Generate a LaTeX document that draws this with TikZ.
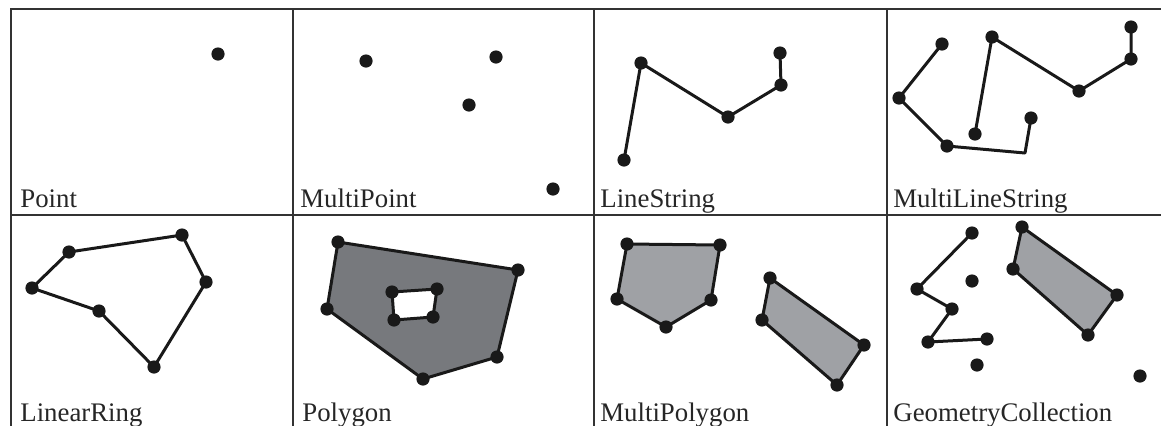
\documentclass[tikz,border=0pt]{standalone}
\usepackage{fontspec}
\setmainfont{Liberation Serif}
\definecolor{darkfill}{RGB}{119,121,125}
\definecolor{lightfill}{RGB}{159,161,165}
\begin{document}
\begin{tikzpicture}[x=0.5pt,y=-0.5pt,
  pt/.style={circle,fill=black!90,inner sep=0pt,minimum size=6.6pt},
  seg/.style={draw=black!90,line width=1.5pt,line join=round},
  grid/.style={draw=black!80,line width=0.9pt},
  lbl/.style={anchor=base west,inner sep=0pt,text=black!85,font=\fontsize{13.4}{15}\selectfont},
  darkpoly/.style={fill=darkfill},
  lightpoly/.style={fill=lightfill}]
\useasboundingbox (0,0) rectangle (1161,425);
% table
\draw[grid] (11,430) -- (11,9) -- (1165,9);
\draw[grid] (11,215) -- (1165,215);
\draw[grid] (293,9) -- (293,430);
\draw[grid] (594,9) -- (594,430);
\draw[grid] (887,9) -- (887,430);
% labels
\node[lbl] (l1) at (20,207) {Point};
\node[lbl] (l2) at (300,207) {MultiPoint};
\node[lbl] (l3) at (600,207) {LineString};
\node[lbl] (l4) at (893,207) {MultiLineString};
\node[lbl] (l5) at (20,421) {LinearRing};
\node[lbl] (l6) at (302,421) {Polygon};
\node[lbl] (l7) at (600,421) {MultiPolygon};
\node[lbl] (l8) at (893,421) {GeometryCollection};
% Point
\node[pt] (p1) at (218,54) {};
% MultiPoint
\node[pt] (mp1) at (366,61) {};
\node[pt] (mp2) at (496,57) {};
\node[pt] (mp3) at (469,105) {};
\node[pt] (mp4) at (553,189) {};
% LineString
\node[pt] (ls1) at (624,160) {};
\node[pt] (ls2) at (641,63) {};
\node[pt] (ls3) at (728,117) {};
\node[pt] (ls4) at (781,85) {};
\node[pt] (ls5) at (780,53) {};
\draw[seg] (ls1.center) -- (ls2.center) -- (ls3.center) -- (ls4.center) -- (ls5.center);
% MultiLineString
\node[pt] (ma1) at (942,44) {};
\node[pt] (ma2) at (899,98) {};
\node[pt] (ma3) at (947,146) {};
\coordinate (ma4) at (1025,153);
\node[pt] (ma5) at (1031,118) {};
\draw[seg] (ma1.center) -- (ma2.center) -- (ma3.center) -- (ma4) -- (ma5.center);
\node[pt] (mb1) at (975,134) {};
\node[pt] (mb2) at (992,37) {};
\node[pt] (mb3) at (1079,91) {};
\node[pt] (mb4) at (1131,59) {};
\node[pt] (mb5) at (1131,27) {};
\draw[seg] (mb1.center) -- (mb2.center) -- (mb3.center) -- (mb4.center) -- (mb5.center);
% LinearRing
\node[pt] (r1) at (69,252) {};
\node[pt] (r2) at (182,235) {};
\node[pt] (r3) at (206,282) {};
\node[pt] (r4) at (154,367) {};
\node[pt] (r5) at (99,311) {};
\node[pt] (r6) at (32,288) {};
\draw[seg] (r1.center) -- (r2.center) -- (r3.center) -- (r4.center) -- (r5.center) -- (r6.center) -- cycle;
% Polygon
\coordinate (po1) at (338,242);
\coordinate (po2) at (518,270);
\coordinate (po3) at (497,357);
\coordinate (po4) at (423,379);
\coordinate (po5) at (327,309);
\coordinate (ph1) at (392,292);
\coordinate (ph2) at (437,289);
\coordinate (ph3) at (433,317);
\coordinate (ph4) at (394,320);
\path[seg,darkpoly,even odd rule] (po1) -- (po2) -- (po3) -- (po4) -- (po5) -- cycle
   (ph1) -- (ph2) -- (ph3) -- (ph4) -- cycle;
\foreach \c in {po1,po2,po3,po4,po5,ph1,ph2,ph3,ph4} \node[pt] (d\c) at (\c) {};
% MultiPolygon
\coordinate (qa1) at (627,244);
\coordinate (qa2) at (720,245);
\coordinate (qa3) at (711,300);
\coordinate (qa4) at (666,327);
\coordinate (qa5) at (617,299);
\path[seg,lightpoly] (qa1) -- (qa2) -- (qa3) -- (qa4) -- (qa5) -- cycle;
\coordinate (qb1) at (770,278);
\coordinate (qb2) at (864,345);
\coordinate (qb3) at (837,385);
\coordinate (qb4) at (762,320);
\path[seg,lightpoly] (qb1) -- (qb2) -- (qb3) -- (qb4) -- cycle;
\foreach \c in {qa1,qa2,qa3,qa4,qa5,qb1,qb2,qb3,qb4} \node[pt] (d\c) at (\c) {};
% GeometryCollection
\node[pt] (g1) at (972,233) {};
\node[pt] (g2) at (917,289) {};
\node[pt] (g3) at (952,309) {};
\node[pt] (g4) at (928,342) {};
\node[pt] (g5) at (987,339) {};
\draw[seg] (g1.center) -- (g2.center) -- (g3.center) -- (g4.center) -- (g5.center);
\node[pt] (gp1) at (972,281) {};
\node[pt] (gp2) at (977,365) {};
\node[pt] (gp3) at (1140,376) {};
\coordinate (gq1) at (1022,227);
\coordinate (gq2) at (1117,295);
\coordinate (gq3) at (1088,335);
\coordinate (gq4) at (1013,269);
\path[seg,lightpoly] (gq1) -- (gq2) -- (gq3) -- (gq4) -- cycle;
\foreach \c in {gq1,gq2,gq3,gq4} \node[pt] (d\c) at (\c) {};
\end{tikzpicture}
\end{document}
